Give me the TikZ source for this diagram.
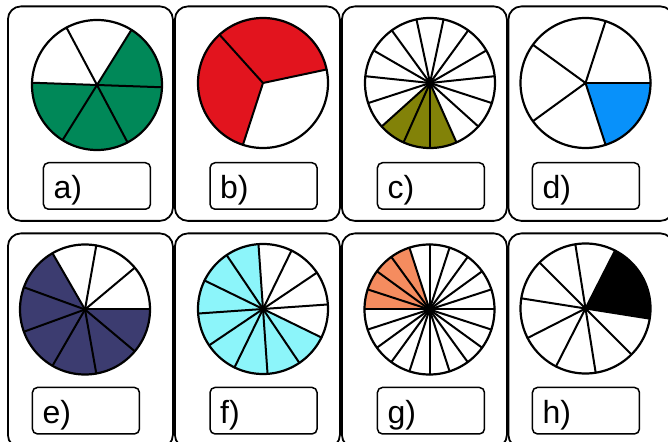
\documentclass[tikz,border=0pt]{standalone}
\usepackage{fontspec}
\setmainfont{Liberation Sans}
\definecolor{cgreen}{RGB}{0,136,88}
\definecolor{cred}{RGB}{226,20,30}
\definecolor{colive}{RGB}{130,130,8}
\definecolor{cblue}{RGB}{8,145,250}
\definecolor{cnavy}{RGB}{60,60,112}
\definecolor{ccyan}{RGB}{140,245,250}
\definecolor{corange}{RGB}{245,140,95}
\tikzset{
  card/.style={draw=black, line width=1.8pt, rounded corners=13pt, minimum width=165pt, minimum height=214.5pt, anchor=north west, inner sep=0pt},
  lblbox/.style={draw=black, line width=1.5pt, rounded corners=5pt, minimum width=107pt, minimum height=46.5pt, anchor=north west, inner sep=0pt},
  lbltext/.style={anchor=base west, inner sep=0pt, font=\fontsize{32}{36}\selectfont},
  spoke/.style={line width=2pt, line cap=round},
  rim/.style={line width=2.2pt}
}
\newcommand{\drawpie}[7]{%
  \coordinate (#1) at (#2,{441-#3});
  \foreach \k in {#7} {
    \fill[#6] (#1) -- ++({-(#5+\k*360/#4)}:65) arc[start angle={-(#5+\k*360/#4)}, end angle={-(#5+(\k+1)*360/#4)}, radius=65] -- cycle;
  }
  \foreach \k in {1,...,#4} {
    \draw[spoke] (#1) -- ++({-(#5+\k*360/#4)}:65);
  }
  \draw[rim] (#1) circle[radius=65];
}
\newcommand{\drawlabel}[4]{% name, x, y(top, screen), text
  \node[lblbox] (#1) at (#2,{441-#3}) {};
  \node[lbltext] (#1t) at ([xshift=10.6pt, yshift=11.5pt]#1.south west) {#4};
}
\begin{document}
\begin{tikzpicture}[x=1pt,y=1pt]
\useasboundingbox (0,0) rectangle (668,441);
\clip (0,0) rectangle (668,441);
\fill[white] (0,0) rectangle (668,441);
% cards
\node[card] (cardA) at (7,{441-5.5}) {};
\node[card] (cardB) at (174,{441-5.5}) {};
\node[card] (cardC) at (341,{441-5.5}) {};
\node[card] (cardD) at (507.5,{441-5.5}) {};
\node[card] (cardE) at (7,{441-232.5}) {};
\node[card] (cardF) at (174,{441-232.5}) {};
\node[card] (cardG) at (341,{441-232.5}) {};
\node[card] (cardH) at (507.5,{441-232.5}) {};
% pies
\drawpie{pA}{97}{85}{6}{2}{cgreen}{0,1,2,5}
\drawpie{pB}{263}{83}{3}{348}{cred}{1,2}
\drawpie{pC}{430}{83}{15}{18}{colive}{2,3,4}
\drawpie{pD}{585.5}{83}{5}{0}{cblue}{0}
\drawpie{pE}{85}{309.5}{9}{0}{cnavy}{0,1,2,3,4,5}
\drawpie{pF}{263}{309}{12}{26}{ccyan}{0,1,2,3,4,5,6,7}
\drawpie{pG}{429.5}{309.5}{20}{0}{corange}{10,11,12,13}
\drawpie{pH}{585.5}{308.5}{10}{9}{black}{8,9}
% labels
\drawlabel{lA}{42.7}{162}{a)}
\drawlabel{lB}{209.3}{162}{b)}
\drawlabel{lC}{376.7}{162}{c)}
\drawlabel{lD}{531.7}{162}{d)}
\drawlabel{lE}{31.7}{386.7}{e)}
\drawlabel{lF}{209.3}{386.7}{f)}
\drawlabel{lG}{376.7}{386.7}{g)}
\drawlabel{lH}{531.7}{386.7}{h)}
\end{tikzpicture}
\end{document}
